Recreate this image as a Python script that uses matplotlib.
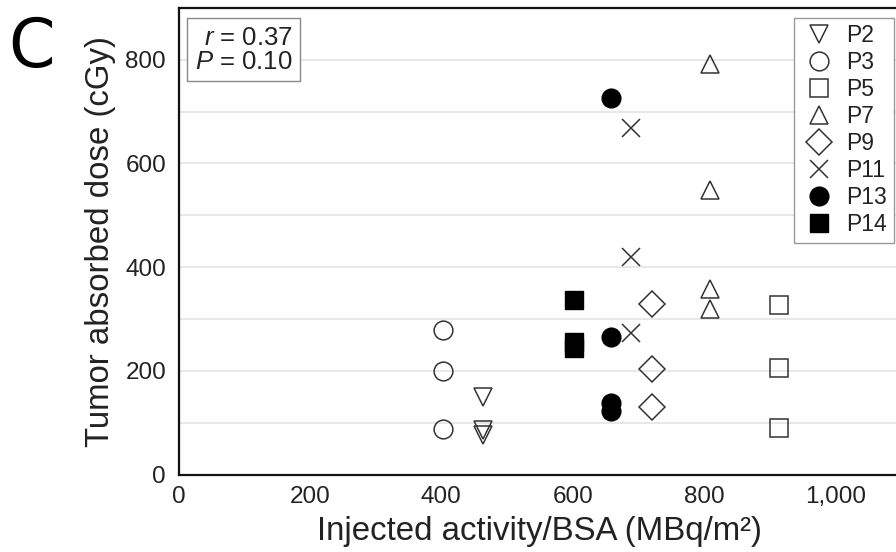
import matplotlib
matplotlib.use("Agg")
import matplotlib.pyplot as plt
from matplotlib.ticker import MultipleLocator, FuncFormatter

plt.rcParams['font.family'] = ['Liberation Sans', 'DejaVu Sans']
plt.rcParams['mathtext.fontset'] = 'custom'
plt.rcParams['mathtext.rm'] = 'Liberation Sans'
plt.rcParams['mathtext.it'] = 'Liberation Sans:italic'

# Data (injected activity/BSA in MBq/m2, tumor absorbed dose in cGy)
patients = ["P2", "P3", "P5", "P7", "P9", "P11", "P13", "P14"]
p2_x, p2_y = [463, 463, 463], [150, 86, 76]
p3_x, p3_y = [403, 403, 403], [279, 200, 88]
p5_x, p5_y = [914, 914, 914], [326, 205, 89]
p7_x, p7_y = [809, 809, 809, 809], [791, 548, 358, 320]
p9_x, p9_y = [721, 721, 721], [328, 203, 130]
p11_x, p11_y = [689, 689, 689], [669, 420, 273]
p13_x, p13_y = [658, 658, 658, 658], [726, 266, 138, 122]
p14_x, p14_y = [602, 602, 602], [336, 256, 243]
x_ticks = [0, 200, 400, 600, 800, 1000]
y_ticks = [0, 200, 400, 600, 800]
stats_text = "$r$ = 0.37\n$P$ = 0.10"

series = [
    (p2_x, p2_y, "v", False, 13),
    (p3_x, p3_y, "o", False, 13.5),
    (p5_x, p5_y, "s", False, 13),
    (p7_x, p7_y, "^", False, 13),
    (p9_x, p9_y, "D", False, 12.8),
    (p11_x, p11_y, "x", False, 13),
    (p13_x, p13_y, "o", True, 13.5),
    (p14_x, p14_y, "s", True, 13),
]

fig = plt.figure(figsize=(8.96, 5.52), dpi=100)
W, H = 896, 552
ax = fig.add_axes([178.5 / W, 1 - 474.5 / H, 722.7 / W, 466.7 / H])

edge = "#333333"
for (xs, ys, m, filled, ms), name in zip(series, patients):
    if filled:
        ax.plot(xs, ys, linestyle="none", marker=m, markersize=ms,
                markerfacecolor="black", markeredgecolor="black",
                markeredgewidth=1.0, label=name, zorder=3)
    else:
        ax.plot(xs, ys, linestyle="none", marker=m, markersize=ms,
                markerfacecolor="none", markeredgecolor=edge,
                markeredgewidth=1.1, label=name, zorder=3)

ax.set_xlim(0, 1100)
ax.set_ylim(0, 900)
ax.set_xticks(x_ticks)
ax.set_yticks(y_ticks)
ax.yaxis.set_minor_locator(MultipleLocator(100))
ax.xaxis.set_major_formatter(FuncFormatter(lambda v, p: f"{int(v):,}"))
ax.grid(axis="y", which="both", color="#e4e4e4", linewidth=1.2)
ax.set_axisbelow(True)
ax.tick_params(axis="both", which="both", length=0, labelsize=17.5,
               labelcolor="#222222")
ax.tick_params(axis="x", pad=8)
ax.tick_params(axis="y", pad=9)

for s in ["left", "bottom", "top"]:
    ax.spines[s].set_linewidth(1.6)
    ax.spines[s].set_color("#111111")
ax.spines["right"].set_visible(False)

ax.set_xlabel("Injected activity/BSA (MBq/m²)", fontsize=23.8,
              color="#222222", labelpad=6)
ax.set_ylabel("Tumor absorbed dose (cGy)", fontsize=23.8,
              color="#222222", labelpad=7)

ax.text(0.0228, 0.962, stats_text, transform=ax.transAxes, fontsize=18.5,
        ha="left", va="top", multialignment="right", linespacing=1.0,
        color="#222222",
        bbox=dict(boxstyle="square,pad=0.3", fc="white", ec="#888888", lw=1.0),
        zorder=5)

leg = ax.legend(loc="upper right", bbox_to_anchor=(0.990, 0.979),
                fontsize=16.5, frameon=True, fancybox=False,
                edgecolor="#999999", framealpha=1, borderpad=0.3,
                labelspacing=0.17, handlelength=1.57, handletextpad=0.4,
                borderaxespad=0.0, markerscale=1.0)
leg.get_frame().set_linewidth(1.0)
for t in leg.get_texts():
    t.set_color("#222222")

fig.text(8 / W, 1 - 67 / H, "C", fontsize=48, ha="left", va="baseline",
         color="black", family="DejaVu Sans")

fig.savefig("out.png", dpi=100)
